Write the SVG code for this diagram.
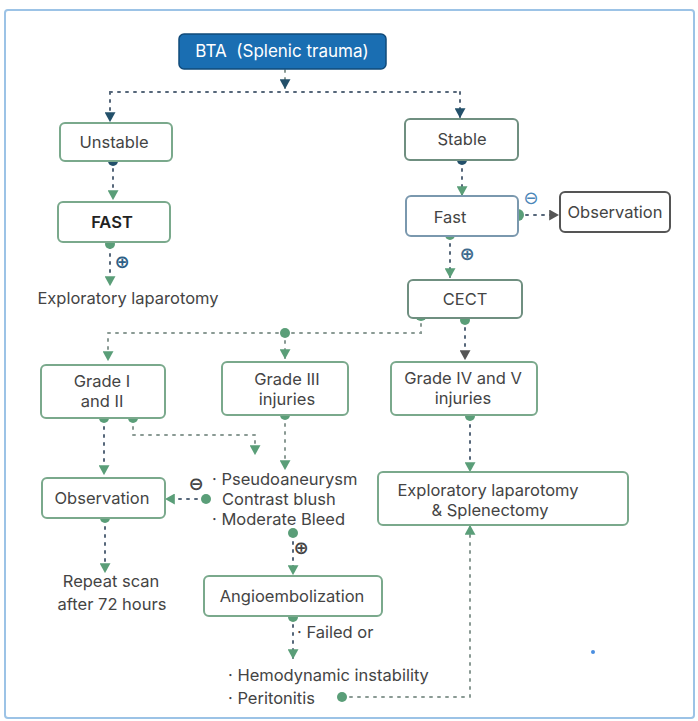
<svg xmlns="http://www.w3.org/2000/svg" width="698" height="721" viewBox="0 0 698 721">
<defs>
<style>
text{font-family:Inter,"Liberation Sans",sans-serif;font-size:16.5px;fill:#444;}
.c{text-anchor:middle;}
.box{fill:#fff;stroke:#7aa98c;stroke-width:2;}
.dk{stroke:#555;}
.ln{fill:none;stroke:#56677a;stroke-width:2;stroke-dasharray:2 6;stroke-linecap:round;}
.lg{fill:none;stroke:#8a9a94;stroke-width:2;stroke-dasharray:2 6;stroke-linecap:round;}
.dot{fill:#5a9e78;}
.dotb{fill:#23506a;}
.sym{font-family:"DejaVu Sans",sans-serif;font-size:18px;font-weight:bold;}
</style>
<marker id="ag" viewBox="0 0 10 10" refX="9" refY="5" markerWidth="11" markerHeight="11" markerUnits="userSpaceOnUse" orient="auto">
<path d="M1,0 L10,5 L1,10 Z" fill="#5a9e78"/>
</marker>
<marker id="ab" viewBox="0 0 10 10" refX="9" refY="5" markerWidth="11" markerHeight="11" markerUnits="userSpaceOnUse" orient="auto">
<path d="M1,0 L10,5 L1,10 Z" fill="#23506a"/>
</marker>
<marker id="ad" viewBox="0 0 10 10" refX="9" refY="5" markerWidth="11" markerHeight="11" markerUnits="userSpaceOnUse" orient="auto">
<path d="M1,0 L10,5 L1,10 Z" fill="#555"/>
</marker>
</defs>
<rect x="0" y="0" width="698" height="721" fill="#fff"/>
<rect x="5" y="10" width="689" height="708" rx="3" fill="none" stroke="#9cc3e6" stroke-width="2"/>

<g id="connectors">
<path class="lg" d="M285,70 V88" marker-end="url(#ab)"/>
<path class="ln" d="M110,92 H460"/>
<path class="ln" d="M110,92 V121" marker-end="url(#ab)"/>
<path class="ln" d="M460,92 V117" marker-end="url(#ab)"/>
<path class="ln" d="M113,161 V199" marker-end="url(#ag)"/>
<path class="ln" d="M110,246 V285" marker-end="url(#ag)"/>
<path class="ln" d="M462,161 V195" marker-end="url(#ag)"/>
<path class="ln" d="M518,215 H558" marker-end="url(#ad)"/>
<path class="ln" d="M450,236 V277" marker-end="url(#ag)"/>
<path class="lg" d="M421,316 V333 H108 V360" marker-end="url(#ag)"/>
<path class="lg" d="M285,333 V358" marker-end="url(#ag)"/>
<path class="ln" d="M465,320 V359" marker-end="url(#ad)"/>
<path class="ln" d="M104,419 V474" marker-end="url(#ag)"/>
<path class="lg" d="M133,419 V435 H255 V454" marker-end="url(#ag)"/>
<path class="lg" d="M285,416 V469" marker-end="url(#ag)"/>
<path class="ln" d="M470,417 V471" marker-end="url(#ag)"/>
<path class="ln" d="M205,499 H166" marker-end="url(#ag)"/>
<path class="ln" d="M105,519 V572" marker-end="url(#ag)"/>
<path class="ln" d="M293,534 V574" marker-end="url(#ag)"/>
<path class="ln" d="M293,617 V658" marker-end="url(#ag)"/>
<path class="lg" d="M342,697 H470 V526" marker-end="url(#ag)"/>
<circle class="dot" cx="285" cy="333" r="5"/>
<circle class="dot" cx="421" cy="315" r="6"/>
<circle class="dot" cx="465" cy="320" r="5"/>
<circle class="dotb" cx="113" cy="161" r="5"/>
<circle class="dotb" cx="462" cy="160" r="5"/>
<circle class="dot" cx="110" cy="244" r="5"/>
<circle class="dot" cx="518" cy="215" r="6"/>
<circle class="dot" cx="450" cy="235" r="5"/>
<circle class="dot" cx="104" cy="418" r="5"/>
<circle class="dot" cx="133" cy="418" r="5"/>
<circle class="dot" cx="285" cy="415" r="5"/>
<circle class="dot" cx="470" cy="416" r="5"/>
<circle class="dot" cx="206" cy="499" r="5"/>
<circle class="dot" cx="105" cy="518" r="5"/>
<circle class="dot" cx="293" cy="533" r="5"/>
<circle class="dot" cx="293" cy="617" r="5"/>
<circle class="dot" cx="342" cy="697" r="5"/>
<text class="sym c" x="122" y="268" style="fill:#2d5f86">⊕</text>
<text class="sym c" x="531" y="204" style="fill:#4a86b8;font-weight:normal">⊖</text>
<text class="sym c" x="467" y="260" style="fill:#3e6b8e">⊕</text>
<text class="sym c" x="196" y="490" style="fill:#444">⊖</text>
<text class="sym c" x="301" y="554" style="fill:#444">⊕</text>
<circle cx="593" cy="652" r="2" fill="#4a8ee0"/>
</g>

<g id="bta">
<rect x="179" y="34" width="207" height="35" rx="5" fill="#1a6eb2" stroke="#114b7a" stroke-width="1.5"/>
<text class="c" x="282" y="52" dominant-baseline="middle" style="fill:#fff;white-space:pre;font-size:17px">BTA  (Splenic trauma)</text>
</g>
<g id="unstable">
<rect class="box" x="60" y="123" width="112" height="38" rx="5"/>
<text class="c" x="114" y="143" dominant-baseline="middle">Unstable</text>
</g>
<g id="stable">
<rect class="box" x="405" y="119" width="113" height="41" rx="5" style="stroke:#6f8f80"/>
<text class="c" x="462" y="140" dominant-baseline="middle">Stable</text>
</g>
<g id="fast-left">
<rect class="box" x="58" y="202" width="112" height="40" rx="5"/>
<text class="c" x="112" y="223" dominant-baseline="middle" style="fill:#222;font-weight:600">FAST</text>
</g>
<g id="explap-left">
<text class="c" x="128" y="299" dominant-baseline="middle">Exploratory laparotomy</text>
</g>
<g id="fast-right">
<rect class="box" x="406" y="196" width="112" height="40" rx="5" style="stroke:#7a98ae"/>
<text class="c" x="450" y="218" dominant-baseline="middle">Fast</text>
</g>
<g id="observation-right">
<rect class="box dk" x="560" y="192" width="110" height="40" rx="5"/>
<text class="c" x="615" y="213" dominant-baseline="middle">Observation</text>
</g>
<g id="cect">
<rect class="box" x="408" y="280" width="114" height="38" rx="5" style="stroke:#6f8f80"/>
<text class="c" x="465" y="300" dominant-baseline="middle">CECT</text>
</g>
<g id="grade12">
<rect class="box" x="41" y="365" width="124" height="53" rx="5"/>
<text class="c" x="102" y="382" dominant-baseline="middle">Grade I</text>
<text class="c" x="102" y="402" dominant-baseline="middle">and II</text>
</g>
<g id="grade3">
<rect class="box" x="222" y="362" width="126" height="53" rx="5"/>
<text class="c" x="287" y="380" dominant-baseline="middle">Grade III</text>
<text class="c" x="287" y="400" dominant-baseline="middle">injuries</text>
</g>
<g id="grade45">
<rect class="box" x="391" y="362" width="146" height="53" rx="5"/>
<text class="c" x="463" y="379" dominant-baseline="middle">Grade IV and V</text>
<text class="c" x="463" y="399" dominant-baseline="middle">injuries</text>
</g>
<g id="observation-left">
<rect class="box" x="42" y="478" width="123" height="40" rx="5"/>
<text class="c" x="102" y="499" dominant-baseline="middle">Observation</text>
</g>
<g id="findings">
<text x="212" y="480" dominant-baseline="middle">· Pseudoaneurysm</text>
<text x="222" y="500" dominant-baseline="middle">Contrast blush</text>
<text x="212" y="520" dominant-baseline="middle">· Moderate Bleed</text>
</g>
<g id="explap-splen">
<rect class="box" x="378" y="472" width="250" height="53" rx="5"/>
<text class="c" x="488" y="491" dominant-baseline="middle">Exploratory laparotomy</text>
<text class="c" x="490" y="511" dominant-baseline="middle">&amp; Splenectomy</text>
</g>
<g id="repeat">
<text class="c" x="111" y="582" dominant-baseline="middle">Repeat scan</text>
<text class="c" x="112" y="605" dominant-baseline="middle">after 72 hours</text>
</g>
<g id="angio">
<rect class="box" x="204" y="576" width="178" height="40" rx="5"/>
<text class="c" x="292" y="597" dominant-baseline="middle">Angioembolization</text>
</g>
<g id="failed">
<text x="297" y="633" dominant-baseline="middle">· Failed or</text>
</g>
<g id="instability">
<text x="228" y="676" dominant-baseline="middle">· Hemodynamic instability</text>
<text x="228" y="699" dominant-baseline="middle">· Peritonitis</text>
</g>
</svg>
